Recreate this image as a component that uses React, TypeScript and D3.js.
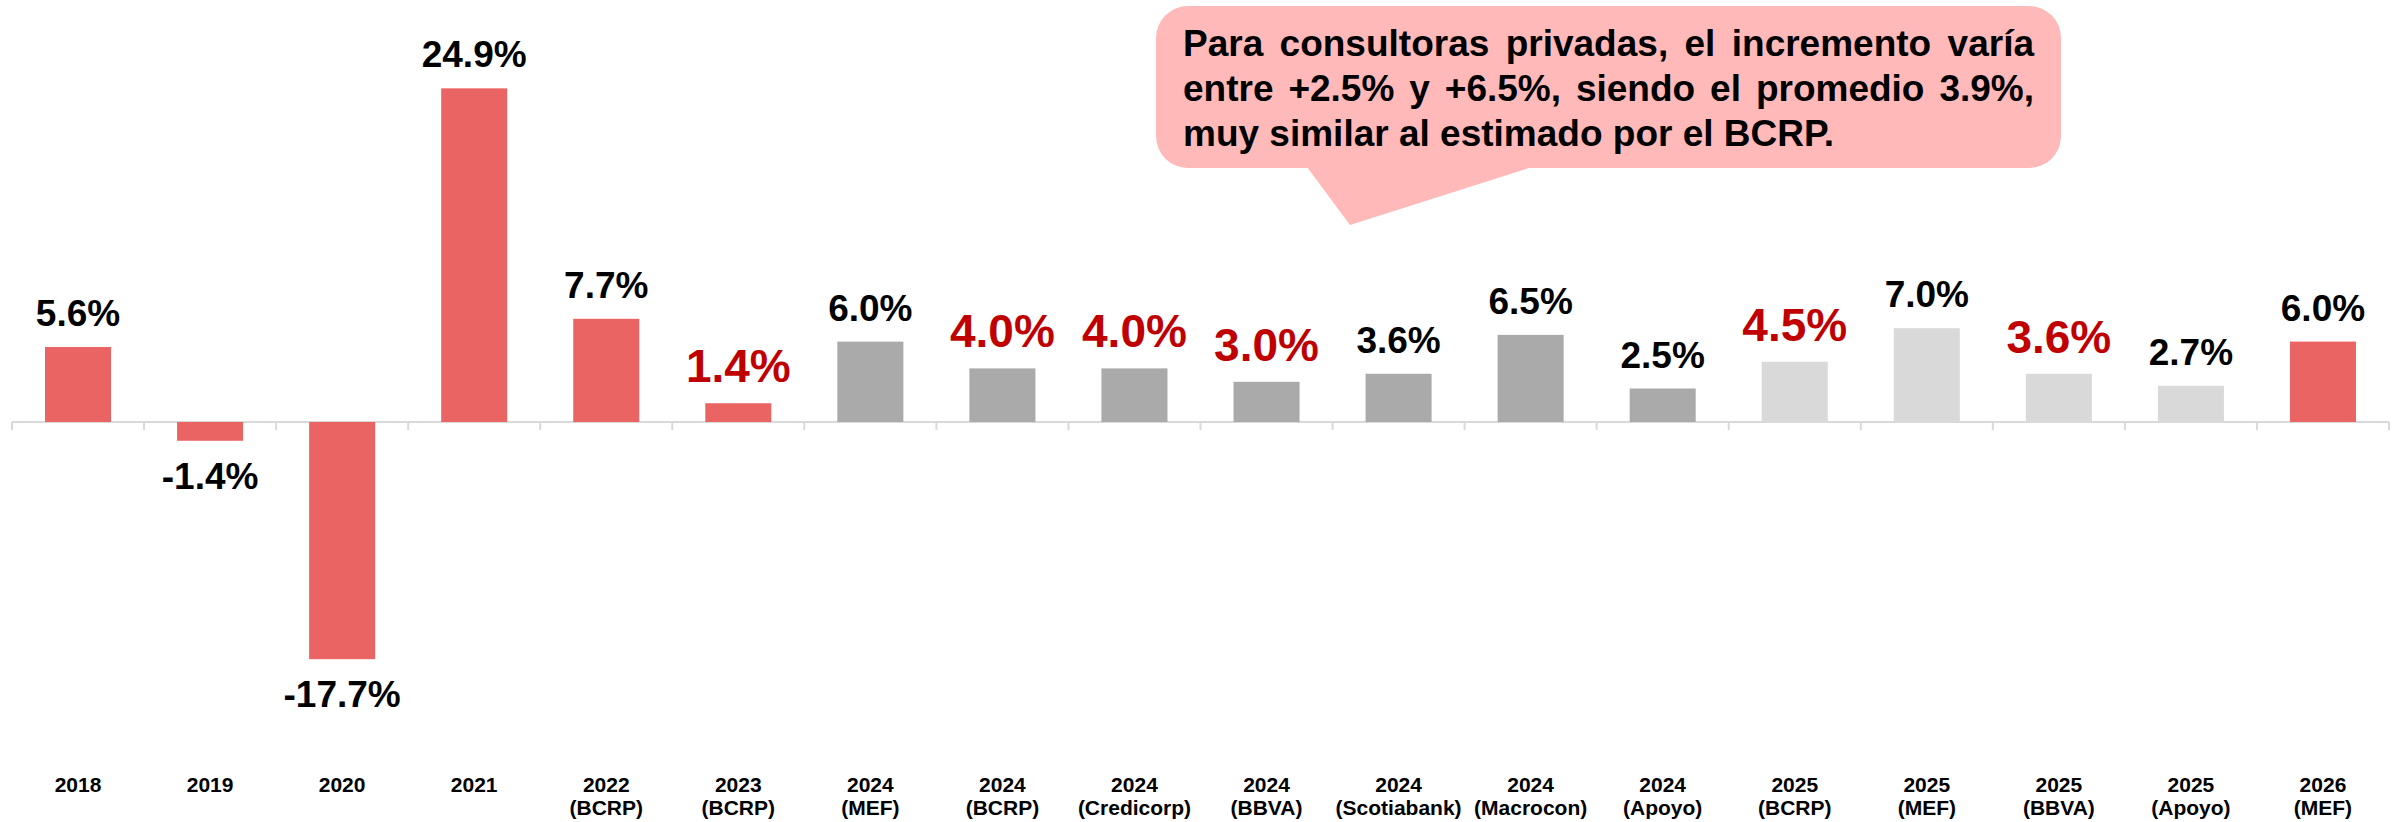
import React, { useMemo } from "react";
import * as d3 from "d3";

const categoryYears = ["2018", "2019", "2020", "2021", "2022", "2023", "2024", "2024", "2024", "2024", "2024", "2024", "2024", "2025", "2025", "2025", "2025", "2026"];
const categorySources = ["", "", "", "", "(BCRP)", "(BCRP)", "(MEF)", "(BCRP)", "(Credicorp)", "(BBVA)", "(Scotiabank)", "(Macrocon)", "(Apoyo)", "(BCRP)", "(MEF)", "(BBVA)", "(Apoyo)", "(MEF)"];
const values = [5.6, -1.4, -17.7, 24.9, 7.7, 1.4, 6.0, 4.0, 4.0, 3.0, 3.6, 6.5, 2.5, 4.5, 7.0, 3.6, 2.7, 6.0];
// bar group: r = historical/official red, d = 2024 gray, l = 2025 light gray
const barGroups = ["r", "r", "r", "r", "r", "r", "d", "d", "d", "d", "d", "d", "d", "l", "l", "l", "l", "r"];
const highlighted = [false, false, false, false, false, true, false, true, true, true, false, false, false, true, false, true, false, false];
const calloutLines = [
  "Para consultoras privadas, el incremento varía",
  "entre +2.5% y +6.5%, siendo el promedio 3.9%,",
  "muy similar al estimado por el BCRP.",
];

const W = 2399;
const H = 822;
const FONT = "'Liberation Sans', Arial, Helvetica, sans-serif";
const groupColor: Record<string, string> = { r: "#EA6464", d: "#AAAAAA", l: "#D9D9D9" };

export default function App() {
  const x = d3
    .scaleBand<number>()
    .domain(values.map((_, i) => i))
    .range([12, 2389])
    .paddingInner(0.5)
    .paddingOuter(0.25);
  const y = d3.scaleLinear().domain([-20, 30]).range([422 + 20 * 13.4, 422 - 30 * 13.4]);
  const y0 = y(0);
  const step = x.step();
  const left = 12;

  // callout geometry
  const box = { x: 1156, y: 6, w: 905, h: 162, r: 32 };
  const textX = 1183;
  const textRight = 2034;
  const fontSizeCallout = 37;
  const calloutFont = `bold ${fontSizeCallout}px ${FONT}`;

  const justified = useMemo(() => {
    const canvas = document.createElement("canvas");
    const ctx = canvas.getContext("2d")!;
    ctx.font = calloutFont;
    return calloutLines.map((line, li) => {
      const words = line.split(" ");
      const widths = words.map((w) => ctx.measureText(w).width);
      const total = widths.reduce((a, b) => a + b, 0);
      const spaceW = ctx.measureText(" ").width;
      const isLast = li === calloutLines.length - 1;
      const gap = isLast ? spaceW : Math.max(spaceW * 0.6, (textRight - textX - total) / (words.length - 1));
      let cx = textX;
      return words.map((w, i) => {
        const pos = cx;
        cx += widths[i] + gap;
        return { w, x: pos };
      });
    });
  }, []);

  const tail = `M1307,${box.y + box.h - 1} L1350,225 L1532,${box.y + box.h - 1} Z`;

  return (
    <svg width={W} height={H} style={{ display: "block", position: "absolute", left: 0, top: 0 }} fontFamily={FONT}>
      <rect x={0} y={0} width={W} height={H} fill="#ffffff" />
      {/* axis */}
      <line x1={left} x2={2389} y1={y0} y2={y0} stroke="#D9D9D9" strokeWidth={2} />
      {d3.range(values.length + 1).map((i) => (
        <line key={"t" + i} x1={left + i * step} x2={left + i * step} y1={y0} y2={y0 + 8} stroke="#D9D9D9" strokeWidth={2} />
      ))}
      {/* bars */}
      {values.map((v, i) => (
        <rect
          key={"b" + i}
          x={x(i)}
          y={Math.min(y(v), y0)}
          width={x.bandwidth()}
          height={Math.abs(y(v) - y0)}
          fill={groupColor[barGroups[i]]}
        />
      ))}
      {/* value labels */}
      {values.map((v, i) => {
        const cx = (x(i) as number) + x.bandwidth() / 2;
        const hi = highlighted[i];
        const yy = v >= 0 ? y(v) - 21 : y(v) + 48;
        return (
          <text
            key={"v" + i}
            x={cx}
            y={yy}
            textAnchor="middle"
            fontWeight="bold"
            fontSize={hi ? 46 : 37}
            fill={hi ? "#C00000" : "#000000"}
          >
            {v.toFixed(1) + "%"}
          </text>
        );
      })}
      {/* category labels */}
      {categoryYears.map((c, i) => {
        const cx = (x(i) as number) + x.bandwidth() / 2;
        return (
          <text key={"c" + i} x={cx} y={792} textAnchor="middle" fontWeight="bold" fontSize={21} fill="#000">
            <tspan x={cx} y={792}>{c}</tspan>
            {categorySources[i] && (
              <tspan x={cx} y={815}>{categorySources[i]}</tspan>
            )}
          </text>
        );
      })}
      {/* callout */}
      <g>
        <rect x={box.x} y={box.y} width={box.w} height={box.h} rx={box.r} ry={box.r} fill="#FFB9B9" />
        <path d={tail} fill="#FFB9B9" />
        {justified.map((line, li) => (
          <text key={"l" + li} y={56 + li * 45} fontWeight="bold" fontSize={fontSizeCallout} fill="#000">
            {line.map((wd, wi) => (
              <tspan key={wi} x={wd.x}>{wd.w}</tspan>
            ))}
          </text>
        ))}
      </g>
    </svg>
  );
}
